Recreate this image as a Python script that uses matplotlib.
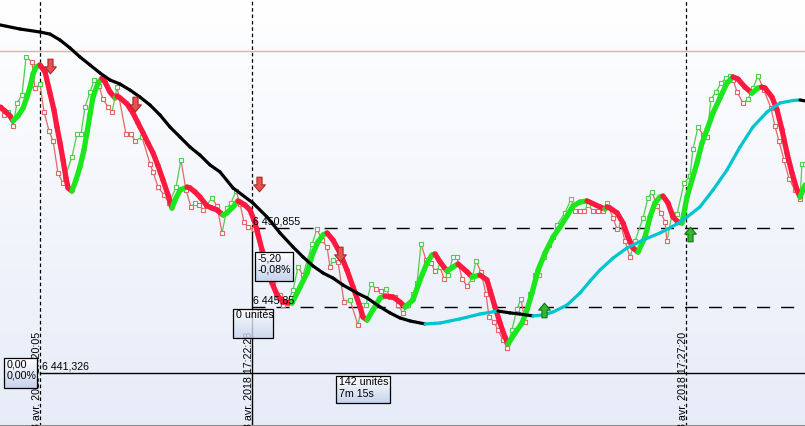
import numpy as np
import matplotlib
matplotlib.use("Agg")
import matplotlib.pyplot as plt
from matplotlib.collections import LineCollection
from matplotlib.path import Path
from matplotlib.patches import Rectangle
import matplotlib.transforms as mtransforms

plt.rcParams['font.family'] = ['Liberation Sans', 'DejaVu Sans']

# ---------------- data (time = seconds after 3 avr. 2018 17:20:05, price) ----------------
raw_ticks = [
    (-26.9, 6458.52), (-24.2, 6458.01), (-21.5, 6458.20), (-18.2, 6457.31), (-15.5, 6458.77),
    (-12.1, 6459.28), (-9.4, 6461.69), (-5.4, 6461.37), (-3.4, 6459.72), (0.0, 6459.97),
    (2.7, 6458.20), (6.1, 6456.99), (8.8, 6456.36), (12.1, 6454.33), (15.5, 6453.70),
    (21.5, 6455.35), (24.9, 6456.80), (27.6, 6456.80), (30.3, 6458.52), (33.7, 6459.47),
    (36.4, 6460.23), (39.7, 6459.85), (42.4, 6459.02), (45.8, 6458.52), (48.5, 6458.20),
    (51.9, 6459.78), (57.9, 6456.80), (61.3, 6456.80), (64.0, 6456.36), (68.7, 6456.61),
    (74.1, 6454.90), (76.1, 6454.40), (79.5, 6453.44), (83.5, 6452.94), (86.9, 6452.43),
    (91.6, 6453.44), (94.9, 6455.16), (98.3, 6453.25), (101.7, 6452.18), (104.4, 6452.43),
    (107.1, 6452.30), (109.8, 6451.99), (115.8, 6452.75), (119.2, 6452.24), (122.6, 6450.53),
    (125.9, 6452.11), (128.6, 6452.43), (132.0, 6453.19), (134.7, 6452.37), (137.4, 6451.23),
    (140.1, 6450.91), (144.1, 6450.78), (149.5, 6449.26), (152.9, 6448.31), (156.9, 6447.36),
    (161.6, 6446.60), (163.6, 6445.96), (166.3, 6446.09), (170.4, 6446.91), (173.7, 6448.37),
    (177.1, 6447.86), (183.2, 6449.83), (186.5, 6450.78), (189.9, 6450.08), (193.3, 6449.64),
    (195.3, 6448.37), (197.3, 6448.82), (200.7, 6448.69), (204.7, 6446.15), (208.8, 6446.28),
    (214.1, 6444.69), (216.8, 6445.96), (219.5, 6445.96), (222.9, 6447.29), (226.3, 6446.98),
    (229.6, 6446.85), (233.0, 6446.98), (235.7, 6446.47), (239.1, 6446.47), (241.1, 6445.96),
    (244.4, 6445.46), (247.8, 6445.96), (251.2, 6446.66), (253.9, 6447.36), (256.6, 6449.83),
    (259.9, 6448.82), (263.3, 6448.63), (266.0, 6448.12), (269.4, 6448.37), (272.1, 6447.61),
    (274.8, 6447.86), (278.1, 6449.01), (280.8, 6449.01), (284.2, 6447.61), (287.6, 6447.17),
    (290.9, 6447.61), (293.6, 6448.75), (297.0, 6448.06), (300.3, 6446.66), (302.4, 6445.20),
    (305.7, 6444.89), (308.4, 6444.38), (311.8, 6443.74), (314.5, 6443.24), (317.8, 6444.38),
    (321.2, 6445.71), (323.9, 6446.34), (326.6, 6444.89), (330.0, 6446.66), (333.3, 6447.86),
    (336.0, 6447.86), (339.4, 6449.01), (342.8, 6449.77), (345.5, 6450.27), (348.1, 6451.03),
    (353.5, 6451.80), (357.6, 6452.68), (360.3, 6451.92), (363.6, 6451.92), (366.3, 6451.92),
    (369.0, 6452.30), (372.4, 6451.92), (375.8, 6451.92), (379.1, 6451.92), (381.8, 6452.43),
    (385.9, 6451.48), (388.6, 6450.78), (391.2, 6451.03), (393.9, 6450.02), (397.3, 6449.01),
    (400.7, 6450.02), (406.1, 6451.48), (409.4, 6452.75), (412.1, 6453.13), (415.5, 6452.24),
    (418.2, 6451.80), (420.9, 6451.23), (422.2, 6450.02), (425.6, 6451.73), (429.0, 6451.73),
    (433.7, 6453.70), (437.7, 6454.14), (439.7, 6455.85), (443.1, 6457.25), (446.5, 6456.74),
    (449.1, 6456.61), (451.8, 6459.02), (455.2, 6459.47), (458.6, 6460.04), (461.9, 6460.35),
    (464.6, 6460.48), (466.7, 6460.23), (469.4, 6459.47), (473.4, 6458.77), (476.8, 6459.02),
    (480.1, 6459.72), (483.5, 6460.48), (487.5, 6459.59), (492.2, 6458.45), (494.9, 6457.31),
    (497.6, 6456.36), (501.0, 6455.16), (504.4, 6453.95), (508.4, 6453.25), (511.8, 6452.68),
    (513.1, 6454.90), (515.2, 6454.90),
]

fast_ma = [
    (-26.9, 6458.52), (-23.6, 6458.26), (-20.2, 6457.95), (-18.2, 6457.63), (-14.8, 6457.95),
    (-11.4, 6458.45), (-8.8, 6459.15), (-6.7, 6459.78), (-4.7, 6460.61), (-2.7, 6461.05),
    (0.0, 6461.18), (3.4, 6460.74), (6.7, 6459.40), (9.4, 6458.33), (11.4, 6457.25),
    (13.5, 6456.23), (15.5, 6455.16), (17.5, 6454.01), (18.9, 6453.38), (21.5, 6453.19),
    (24.2, 6453.89), (26.9, 6454.71), (29.6, 6455.79), (31.6, 6456.87), (33.7, 6458.07),
    (35.7, 6459.15), (39.1, 6460.04), (41.8, 6460.35), (43.8, 6460.10), (47.1, 6459.47),
    (50.5, 6459.09), (51.9, 6459.21), (53.9, 6459.09), (58.6, 6458.71), (62.6, 6458.14),
    (66.0, 6457.50), (69.4, 6456.87), (72.7, 6456.23), (76.1, 6455.60), (79.5, 6454.78),
    (82.8, 6453.89), (86.2, 6452.94), (88.9, 6452.11), (90.9, 6452.62), (94.3, 6453.25),
    (99.0, 6453.44), (101.0, 6453.38), (104.4, 6453.13), (107.7, 6452.81), (112.5, 6452.24),
    (115.8, 6452.11), (119.2, 6451.99), (123.2, 6451.67), (125.9, 6451.80), (130.0, 6452.18),
    (133.3, 6452.56), (134.7, 6452.49), (138.0, 6452.30), (141.4, 6451.99), (144.1, 6451.35),
    (146.1, 6450.72), (149.5, 6449.45), (152.9, 6448.37), (156.2, 6447.36), (159.6, 6446.60),
    (163.6, 6446.15), (169.7, 6446.09), (175.1, 6447.10), (179.8, 6447.99), (183.8, 6449.26),
    (187.2, 6449.96), (190.6, 6450.40), (193.3, 6450.53), (197.3, 6450.08), (202.0, 6449.26),
    (206.7, 6448.18), (210.8, 6447.10), (215.5, 6445.84), (217.5, 6445.20), (220.2, 6445.01),
    (224.2, 6445.65), (229.0, 6446.41), (232.3, 6446.53), (237.7, 6446.47), (242.4, 6446.15),
    (245.8, 6445.84), (251.2, 6446.28), (255.9, 6447.55), (260.6, 6448.63), (264.0, 6449.13),
    (266.0, 6449.20), (269.4, 6448.69), (274.1, 6448.12), (278.1, 6448.37), (281.5, 6448.56),
    (287.6, 6448.06), (290.9, 6447.74), (296.3, 6447.86), (301.0, 6447.55), (303.0, 6446.91),
    (306.4, 6445.84), (309.8, 6444.82), (313.1, 6443.93), (315.2, 6443.49), (319.9, 6444.19),
    (324.6, 6444.82), (327.9, 6445.65), (331.3, 6446.72), (335.4, 6448.18), (340.1, 6449.26),
    (345.5, 6450.27), (350.2, 6450.91), (354.9, 6451.61), (358.9, 6452.24), (363.6, 6452.49),
    (368.4, 6452.56), (377.1, 6452.18), (380.5, 6452.05), (381.8, 6452.18), (383.8, 6452.11),
    (388.6, 6451.80), (392.6, 6451.16), (396.0, 6450.27), (399.3, 6449.58), (402.7, 6449.32),
    (407.4, 6450.27), (410.8, 6451.54), (414.1, 6452.43), (417.5, 6452.81), (419.5, 6452.87),
    (422.9, 6452.43), (426.3, 6451.54), (429.6, 6451.23), (432.3, 6451.16), (435.7, 6452.81),
    (439.0, 6453.89), (442.4, 6454.97), (445.8, 6456.23), (449.1, 6457.06), (453.2, 6458.14),
    (457.9, 6459.09), (462.6, 6460.04), (466.7, 6460.42), (470.0, 6460.29), (474.7, 6459.78),
    (479.4, 6459.40), (483.5, 6459.72), (486.0, 6459.78), (488.2, 6459.72), (492.9, 6459.15),
    (496.3, 6458.33), (499.7, 6457.06), (503.0, 6455.60), (506.4, 6454.33), (509.8, 6453.25),
    (511.8, 6452.81), (515.2, 6453.57),
]

slow_ma = [
    (-26.9, 6463.72), (-13.5, 6463.46), (0.0, 6463.27), (6.7, 6463.14), (13.5, 6462.76),
    (20.2, 6462.26), (26.9, 6461.69), (33.7, 6461.18), (40.4, 6460.67), (47.1, 6460.23),
    (53.9, 6459.97), (60.6, 6459.59), (67.3, 6459.15), (74.1, 6458.64), (80.8, 6458.01),
    (87.5, 6457.25), (94.3, 6456.61), (101.0, 6455.98), (107.7, 6455.47), (114.5, 6454.84),
    (121.2, 6454.40), (130.0, 6453.38), (143.4, 6452.43), (152.9, 6451.54), (161.6, 6450.53),
    (170.4, 6449.64), (177.1, 6449.01), (183.8, 6448.44), (190.6, 6447.99), (197.3, 6447.67),
    (204.0, 6447.23), (213.5, 6446.72), (220.2, 6446.41), (229.0, 6445.84), (235.7, 6445.46),
    (242.4, 6445.14), (249.2, 6444.95), (259.3, 6444.76), (269.4, 6444.82), (282.8, 6445.08),
    (296.3, 6445.39), (308.4, 6445.58), (316.5, 6445.46), (323.2, 6445.39), (332.0, 6445.27),
    (338.7, 6445.33), (345.5, 6445.52), (354.9, 6445.96), (363.6, 6446.72), (370.4, 6447.48),
    (377.1, 6448.18), (385.9, 6448.94), (395.3, 6449.58), (406.1, 6450.08), (417.5, 6450.53),
    (429.0, 6451.10), (435.7, 6451.54), (444.4, 6452.18), (453.2, 6453.25), (462.6, 6454.52),
    (471.4, 6455.98), (480.1, 6457.25), (489.6, 6458.20), (498.3, 6458.77), (507.1, 6458.93),
    (511.8, 6458.96), (515.2, 6458.90),
]

sell_signals = [(6.7, 6461.12), (64.0, 6458.71), (147.5, 6453.63), (202.0, 6449.20)]
buy_signals = [(339.4, 6445.65), (437.7, 6450.46)]

time_marks = [0, 143, 435]
time_labels = ["3 avr. 2018 17:20:05", "3 avr. 2018 17:22:28", "3 avr. 2018 17:27:20"]

level_high, level_high_label = 6450.855, "6 450,855"
level_low, level_low_label = 6445.85, "6 445,85"
level_ref, level_ref_label = 6441.65, "6 441,326"
top_line = 6462.07

# ---------------- figure ----------------
W, H = 805, 426
T_MIN, T_MAX = -26.94, 515.15
P_MIN, P_MAX = 6438.29, 6465.30
FS = 7.7

fig = plt.figure(figsize=(W / 100, H / 100), dpi=100)
ax = fig.add_axes([0, 0, 1, 1])
ax.set_xlim(T_MIN, T_MAX)
ax.set_ylim(P_MIN, P_MAX)
ax.set_xticks([])
ax.set_yticks([])
for s in ['top', 'left', 'right']:
    ax.spines[s].set_visible(False)
ax.spines['bottom'].set_color('#8c8c8c')
ax.spines['bottom'].set_linewidth(2.2)


def px(x, y):
    return (T_MIN + x / W * (T_MAX - T_MIN), P_MAX - y / H * (P_MAX - P_MIN))


# background gradient
g = np.linspace(0, 1, 256)[:, None, None]
c_top = np.array([1.0, 1.0, 1.0])
c_bot = np.array([0.905, 0.925, 0.972])
ax.imshow(c_top * (1 - g) + c_bot * g, extent=[T_MIN, T_MAX, P_MIN, P_MAX],
          aspect='auto', origin='upper', zorder=0)

# reference lines
ax.axhline(top_line, color='#F0A6A6', lw=1.0, zorder=1)
for t in (time_marks[0], time_marks[2]):
    ax.plot([t, t], [P_MIN, P_MAX], color='black', lw=0.9, ls=(0, (2.9, 2.2)), zorder=2)
ax.plot([time_marks[1]] * 2, [level_high, P_MAX], color='black', lw=0.9, ls=(0, (2.9, 2.2)), zorder=2)
ax.plot([time_marks[1]] * 2, [P_MIN, level_high], color='black', lw=1.0, zorder=2)
for lv in (level_high, level_low):
    ax.plot([time_marks[1], T_MAX], [lv, lv], color='black', lw=1.0, ls=(0, (9.4, 7.9)), zorder=2)
ax.plot([time_marks[0], T_MAX], [level_ref, level_ref], color='black', lw=1.0, zorder=2)


def colored(data, up, down, lw, z, cap='round'):
    arr = np.array(data)
    pts = arr[:, :2]
    segs = np.stack([pts[:-1], pts[1:]], axis=1)
    cols, last = [], down
    for v in np.diff(arr[:, 1]):
        if v > 0:
            last = up
        elif v < 0:
            last = down
        cols.append(last)
    lc = LineCollection(segs, colors=cols, linewidths=lw, capstyle=cap,
                        joinstyle='round', zorder=z)
    ax.add_collection(lc)
    return cols


# raw ticks
rcols = colored(raw_ticks, '#52CC52', '#E26868', 0.9, 3, cap='butt')
raw = np.array(raw_ticks)
mcols = ['#E26868'] + rcols
ax.scatter(raw[:, 0], raw[:, 1], marker='s', s=8, facecolors='#FBFCFE',
           edgecolors=mcols, linewidths=0.8, zorder=3.5)

# fast moving average
colored(fast_ma, '#1CE61C', '#FF1840', 3.8, 4)
# slow moving average
colored(slow_ma, '#00C4CE', '#000000', 2.3, 5)

# signal arrows
dv = [(-0.35, 1), (0.35, 1), (0.35, -0.05), (0.8, -0.05), (0, -1), (-0.8, -0.05),
      (-0.35, -0.05), (-0.35, 1)]
codes = [Path.MOVETO] + [Path.LINETO] * 6 + [Path.CLOSEPOLY]
down_arrow = Path(dv, codes)
up_arrow = Path([(x, -y) for x, y in dv], codes)
s_arr = np.array(sell_signals)
b_arr = np.array(buy_signals)
ax.plot(s_arr[:, 0], s_arr[:, 1], ls='none', marker=down_arrow, ms=10.5,
        mfc='#E65250', mec='#A82828', mew=0.8, zorder=6)
ax.plot(b_arr[:, 0], b_arr[:, 1], ls='none', marker=up_arrow, ms=10.5,
        mfc='#34B834', mec='#147414', mew=0.8, zorder=6)

# level labels
dy = 0.07
ax.text(time_marks[1] + 0.6, level_high + dy, level_high_label, fontsize=FS, ha='left', va='bottom', zorder=6)
ax.text(time_marks[1] + 0.6, level_low + dy, level_low_label, fontsize=FS, ha='left', va='bottom', zorder=6)
ax.text(time_marks[0] + 1.3, level_ref + dy, level_ref_label, fontsize=FS, ha='left', va='bottom', zorder=6)

# rotated time labels
trans = mtransforms.blended_transform_factory(ax.transData, ax.transAxes)
for t, lab in zip(time_marks, time_labels):
    ax.text(t - 2.2, -0.006, lab, rotation=90, ha='center', va='bottom',
            fontsize=FS, transform=trans, zorder=3)

# info boxes
bg = np.linspace(0, 1, 64)[:, None, None]
box_grad = np.array([1.0, 1.0, 1.0]) * (1 - bg) + np.array([0.78, 0.83, 0.93]) * bg


def box(x0, y0, x1, y1, text, alpha=1.0):
    a, top = px(x0, y0)
    c, bot = px(x1, y1)
    ax.imshow(box_grad, extent=[a, c, bot, top], aspect='auto', origin='upper',
              zorder=7, alpha=alpha)
    ax.add_patch(Rectangle((a, bot), c - a, top - bot, fill=False, ec='black', lw=0.9, zorder=8))
    tx, ty = px(x0 + 2.5, y0 + 1.5)
    ax.text(tx, ty, text, ha='left', va='top', fontsize=FS, zorder=9, linespacing=1.15)


box(4, 358, 37, 388, "0,00\n0,00%")
box(255, 252, 293, 281, "-5,20\n-0,08%")
box(233, 309, 273, 338, "0 unités", alpha=0.8)
box(336, 376, 390, 403, "142 unités\n7m 15s")

ax.set_xlim(T_MIN, T_MAX)
ax.set_ylim(P_MIN, P_MAX)
fig.savefig("out.png", dpi=100)
